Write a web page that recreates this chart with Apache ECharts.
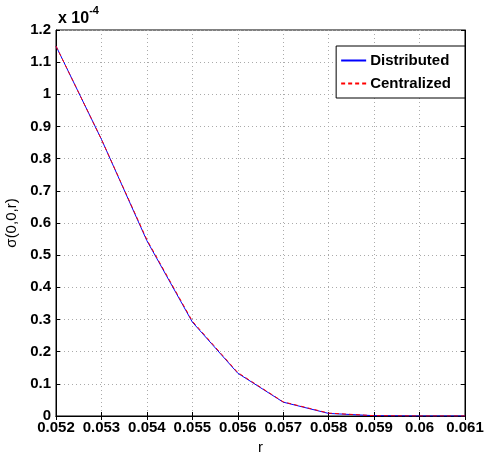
<!DOCTYPE html>
<html><head><meta charset="utf-8">
<script src="https://cdn.jsdelivr.net/npm/echarts@6/dist/echarts.min.js"></script>
<style>html,body{margin:0;padding:0;background:#fff}#c{width:488px;height:455px}</style>
</head><body><div id="c"></div>
<script>
const r = [0.052, 0.053, 0.054, 0.055, 0.056, 0.057, 0.058, 0.059, 0.060, 0.061];
const distributed = [1.15, 0.86, 0.545, 0.292, 0.133, 0.043, 0.008, 0.001, 0.0, 0.0];
const centralized = [1.15, 0.86, 0.548, 0.295, 0.135, 0.044, 0.009, 0.001, 0.0, 0.0];
const seriesNames = ['Distributed', 'Centralized'];
const xLabel = 'r';
const yLabel = 'σ(0,0,r)';

const chart = echarts.init(document.getElementById('c'));
const font = 'Liberation Sans, Arial, sans-serif';
const fmtX = v => (Math.round(v * 1000) / 1000).toString();
const fmtY = v => (Math.round(v * 10) / 10).toString();
const solidIcon = 'path://M0 0H25V1H0Z';
const dashIcon = 'path://M0 0H4V1H0Z M7 0H11V1H7Z M14 0H18V1H14Z M21 0H25V1H21Z';
chart.setOption({
  animation: false,
  backgroundColor: '#fff',
  color: ['#0000ff', '#ff0000'],
  grid: {left: 56, right: 23, top: 30, bottom: 39, show: true, borderColor: '#000', borderWidth: 1,
         containLabel: false, outerBoundsMode: 'none'},
  legend: {
    right: 23, top: 46, orient: 'vertical',
    data: [{name: seriesNames[0], icon: solidIcon}, {name: seriesNames[1], icon: dashIcon}],
    symbolKeepAspect: false,
    backgroundColor: '#fff', borderColor: '#000', borderWidth: 1, borderRadius: 0,
    padding: [7, 14, 7, 5], itemGap: 8, itemWidth: 25, itemHeight: 2,
    textStyle: {fontFamily: font, fontWeight: 'bold', fontSize: 15, color: '#000', padding: [0, 0, 0, -1]}
  },
  xAxis: [{
    type: 'value', min: 0.052, max: 0.061, interval: 0.001,
    name: xLabel, nameLocation: 'middle', nameGap: 18,
    nameTextStyle: {fontFamily: font, fontSize: 15, color: '#000'},
    axisLine: {lineStyle: {color: '#000'}},
    axisTick: {inside: true, length: 4, lineStyle: {color: '#000'}},
    axisLabel: {formatter: fmtX, fontFamily: font, fontWeight: 'bold', fontSize: 15, color: '#000', margin: 4},
    splitLine: {show: true, lineStyle: {color: '#aaa', type: [1, 3]}}
  }, {
    type: 'value', position: 'top', min: 0.052, max: 0.061, interval: 0.001,
    axisLine: {lineStyle: {color: '#000'}},
    axisTick: {inside: true, length: 4, lineStyle: {color: '#000'}},
    axisLabel: {show: false}, splitLine: {show: false}
  }],
  yAxis: [{
    type: 'value', min: 0, max: 1.2, interval: 0.1,
    name: yLabel, nameLocation: 'middle', nameGap: 31, nameRotate: 90,
    nameTextStyle: {fontFamily: font, fontSize: 15, color: '#000'},
    axisLine: {lineStyle: {color: '#000'}},
    axisTick: {inside: true, length: 4, lineStyle: {color: '#000'}},
    axisLabel: {formatter: fmtY, fontFamily: font, fontWeight: 'bold', fontSize: 15, color: '#000', margin: 5},
    splitLine: {show: true, lineStyle: {color: '#aaa', type: [1, 3]}}
  }, {
    type: 'value', position: 'right', min: 0, max: 1.2, interval: 0.1,
    axisLine: {lineStyle: {color: '#000'}},
    axisTick: {inside: true, length: 4, lineStyle: {color: '#000'}},
    axisLabel: {show: false}, splitLine: {show: false}
  }],
  graphic: [{
    type: 'text', left: 58, top: 5,
    style: {
      text: '{a|x 10}{b|-4}',
      rich: {
        a: {fontFamily: font, fontWeight: 'bold', fontSize: 16, fill: '#000', verticalAlign: 'bottom', lineHeight: 22},
        b: {fontFamily: font, fontWeight: 'bold', fontSize: 11, fill: '#000', verticalAlign: 'top', lineHeight: 22, padding: [0,0,12,0]}
      }
    }
  }],
  series: [{
    name: seriesNames[0], type: 'line', symbol: 'none',
    data: r.map((x, i) => [x, distributed[i]]),
    lineStyle: {color: '#0000ff', width: 1}, itemStyle: {color: '#0000ff'}
  }, {
    name: seriesNames[1], type: 'line', symbol: 'none',
    data: r.map((x, i) => [x, centralized[i]]),
    lineStyle: {color: '#ff0000', width: 1, type: [4, 3]}, itemStyle: {color: '#ff0000'}
  }]
});
</script></body></html>
